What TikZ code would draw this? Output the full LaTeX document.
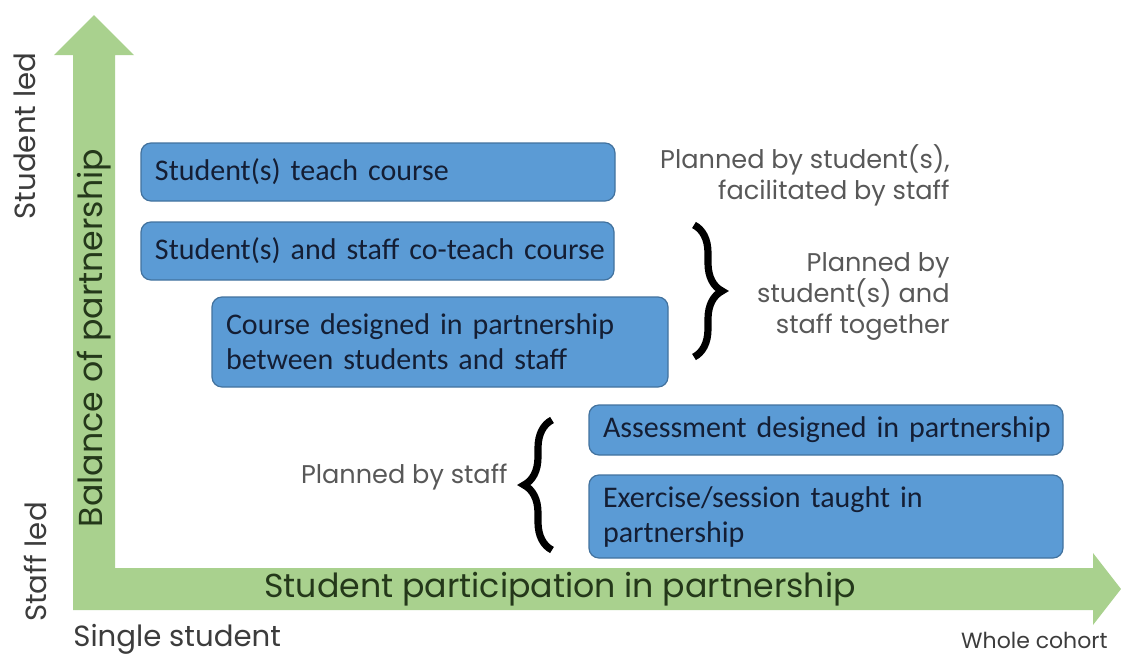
\documentclass[tikz,border=0pt]{standalone}
\usepackage{fontspec}
\setmainfont{Carlito}
\newfontfamily\gothic{Poppins}
\usetikzlibrary{decorations.pathreplacing}
\definecolor{armgreen}{RGB}{169,209,142}
\definecolor{armtext}{RGB}{36,56,26}
\definecolor{boxblue}{RGB}{91,155,213}
\definecolor{boxline}{RGB}{66,114,158}
\definecolor{boxtext}{RGB}{20,30,52}
\definecolor{sidegray}{RGB}{60,60,60}
\definecolor{notegray}{RGB}{88,88,88}

\begin{document}
\begin{tikzpicture}[x=0.5pt,y=-0.5pt,
	bar/.style={draw=boxline,line width=0.6pt,fill=boxblue,rounded corners=5pt,text=boxtext,
		font=\fontsize{15}{17.5}\selectfont,align=left,inner xsep=7pt,inner ysep=0pt,text width=#1},
	side/.style={text=sidegray,font=\gothic\fontsize{14.6}{18}\selectfont,inner sep=0pt},
	axis/.style={text=armtext,font=\gothic\fontsize{16.6}{20}\selectfont,inner sep=0pt},
	note/.style={text=notegray,font=\gothic\fontsize{12.8}{15.5}\selectfont,align=right,inner sep=0pt},
	curly/.style={decorate,decoration={brace,amplitude=14pt},line width=3.6pt}]
	\useasboundingbox (0,0) rectangle (1121,654);
	
	\coordinate (O) at (73,610);
	\coordinate (Y) at (94,15);
	\coordinate (X) at (1121,589);
	
	% the two arms
	\fill[armgreen] (O) -- (73,55) -- (54,55) -- (Y) -- (134,55) -- (115,55) -- (115,568) -- (1093,568)
		-- (1093,553) -- (X) -- (1093,625) -- (1093,610) -- cycle;
	\node[axis,rotate=90] (balance) at (94,338) {Balance of partnership};
	\node[axis] (participation) at (560,589) {Student participation in partnership};
	
	\node[side,rotate=90] (studentled) at (25,136) {Student led};
	\node[side,rotate=90] (staffled) at (35,562) {Staff led};
	\node[side,anchor=base west] (single) at (73,646) {Single student};
	\node[side,anchor=base east,font=\gothic\fontsize{11}{13}\selectfont] (whole) at (1108,648) {Whole cohort};
	
	\node[bar=223pt,minimum height=29pt] (teach) at (378,172) {Student(s) teach course};
	\node[bar=222.5pt,minimum height=29pt] (coteach) at (377.5,251) {\mbox{Student(s) and staff co-teach course}};
	\node[bar=214pt,minimum height=45pt] (course) at (440,342) {Course designed in partnership\\between students and staff};
	\node[bar=223pt,minimum height=25pt] (assess) at (826,430) {\mbox{Assessment designed in partnership}};
	\node[bar=223pt,minimum height=41.5pt] (session) at (826,516.5) {Exercise/session taught in\\partnership};
	
	\node[note,anchor=east] (facil) at (950,175) {Planned by student(s),\\facilitated by staff};
	\node[note,anchor=east] (together) at (950,296) {Planned by\\student(s) and\\staff together};
	\node[note,anchor=east] (bystaff) at (508,477) {Planned by staff};
	
	\coordinate (R1) at (694,225);
	\coordinate (R2) at (694,357);
	\coordinate (L1) at (552,550);
	\coordinate (L2) at (552,420);
	\draw[curly] (R1) -- (R2);
	\draw[curly] (L1) -- (L2);
\end{tikzpicture}
\end{document}
